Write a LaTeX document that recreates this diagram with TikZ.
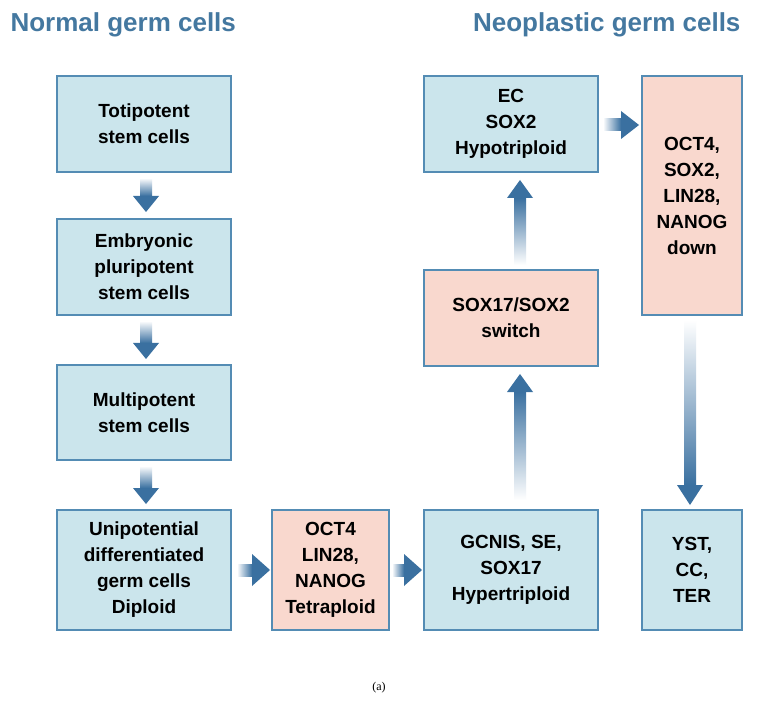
\documentclass[tikz,border=0pt]{standalone}
\usepackage{fontspec}
\setmainfont{Liberation Sans}
\newfontfamily\capfont{Liberation Serif}
\definecolor{bfill}{RGB}{203,229,236}
\definecolor{bdraw}{RGB}{84,140,180}
\definecolor{pfill}{RGB}{249,216,206}
\definecolor{arr}{RGB}{58,112,160}
\definecolor{ttl}{RGB}{68,120,160}
\begin{document}
\begin{tikzpicture}[x=1pt,y=-1pt,
  box/.style={draw=bdraw,line width=1.2pt,fill=bfill,align=center,font=\bfseries\fontsize{19}{26}\selectfont,inner sep=1pt},
  pbox/.style={box,fill=pfill},
  ttl/.style={font=\bfseries\fontsize{26}{30}\selectfont,text=ttl}]
\useasboundingbox (0,0) rectangle (758,703);
\fill[white] (0,0) rectangle (758,703);
\newcommand{\boxat}[6]{\node[#1,minimum width=#4-#2,minimum height=#5-#3] (#6) at ({(#2+#4)/2},{(#3+#5)/2})}
\boxat{box}{57}{76}{231}{172}{t} {Totipotent\\stem cells};
\boxat{box}{57}{219}{231}{315}{e} {Embryonic\\pluripotent\\stem cells};
\boxat{box}{57}{365}{231}{460}{m} {Multipotent\\stem cells};
\boxat{box}{57}{510}{231}{630}{u} {Unipotential\\differentiated\\germ cells\\Diploid};
\boxat{pbox}{272}{510}{389}{630}{o} {OCT4\\LIN28,\\NANOG\\Tetraploid};
\boxat{box}{424}{510}{598}{630}{g} {GCNIS, SE,\\SOX17\\Hypertriploid};
\boxat{pbox}{424}{270}{598}{366}{s} {SOX17/SOX2\\switch};
\boxat{box}{424}{76}{598}{172}{ec} {EC\\SOX2\\Hypotriploid};
\boxat{pbox}{642}{76}{742}{315}{d} {OCT4,\\SOX2,\\LIN28,\\NANOG\\down};
\boxat{box}{642}{510}{742}{630}{y} {YST,\\CC,\\TER};
\node[ttl,anchor=west] (T1) at (7,25) {Normal germ cells};
\node[ttl,anchor=east] (T2) at (744,25) {Neoplastic germ cells};
\node[font=\capfont\fontsize{12}{14}\selectfont] (cap) at (379,688) {(a)};
\newcommand{\varr}[6]{%
 \shade[top color=white,bottom color=arr] (#1-#4,#2) rectangle (#1+#4,#3-#6);
 \fill[arr] (#1-#5,#3-#6) -- (#1+#5,#3-#6) -- (#1,#3) -- cycle;}
\newcommand{\uarr}[6]{%
 \shade[bottom color=white,top color=arr] (#1-#4,#2) rectangle (#1+#4,#3+#6);
 \fill[arr] (#1-#5,#3+#6) -- (#1+#5,#3+#6) -- (#1,#3) -- cycle;}
\newcommand{\rarr}[6]{%
 \shade[left color=white,right color=arr] (#2,#1-#4) rectangle (#3-#6,#1+#4);
 \fill[arr] (#3-#6,#1-#5) -- (#3-#6,#1+#5) -- (#3,#1) -- cycle;}
\varr{146}{178}{212}{6}{13}{16}
\varr{146}{321}{359}{6}{13}{16}
\varr{146}{466}{504}{6}{13}{16}
\rarr{570}{237}{270}{6}{16}{18}
\rarr{570}{392}{422}{6}{16}{18}
\uarr{520}{500}{374}{6}{13}{18}
\uarr{520}{265}{180}{6}{13}{18}
\rarr{125}{603}{639}{6}{14}{18}
\varr{690}{320}{505}{6}{13}{20}
\end{tikzpicture}
\end{document}
